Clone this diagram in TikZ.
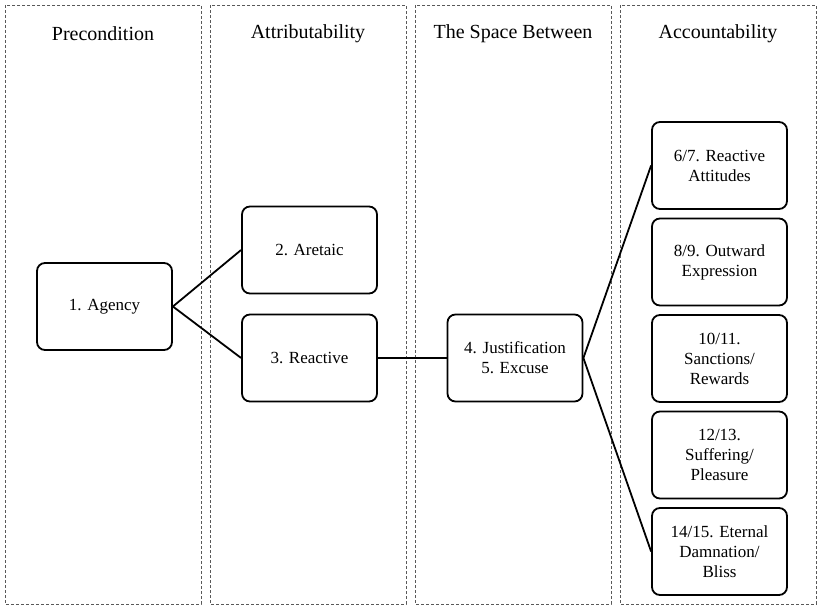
\documentclass[tikz,border=0pt]{standalone}
\usepackage{fontspec}
\setmainfont{Liberation Serif}

\begin{document}
\begin{tikzpicture}[x=1pt,y=-1pt,line width=1.8pt,
	stage/.style={draw,rounded corners=8pt,minimum width=135pt,minimum height=87pt,align=center,inner sep=2pt,font=\fontsize{17}{20}\selectfont},
	panel/.style={draw=black!65,line width=0.8pt,dash pattern=on 3pt off 2pt},
	heading/.style={font=\fontsize{20}{24}\selectfont}]

\useasboundingbox (0,0) rectangle (819,609);

%Draw the four dashed columns and the heading of each one
	\foreach \xl/\id/\title in {5/pre/Precondition,210/att/Attributability,415/spc/The Space Between,620/acc/Accountability}
		{
		\draw [panel] (\xl,5) rectangle ++(196,599);
		\node [heading] (\id) at (\xl+98,34) {\title};
	}

%The stages on the left
	\node [stage] (agency) at (104.5,306.5) {1. Agency};
	\node [stage] (aretaic) at (309.5,250) {2. Aretaic};
	\node [stage] (reactive) at (309.5,358) {3. Reactive};
	\node [stage] (excuse) at (515,358) {4. Justification\\5. Excuse};

%The five forms of accountability, stacked in the last column
	\foreach \i/\txt in {0/{6/7. Reactive\\Attitudes},1/{8/9. Outward\\Expression},2/{10/11.\\Sanctions/\\Rewards},3/{12/13.\\Suffering/\\Pleasure},4/{14/15. Eternal\\Damnation/\\Bliss}}
		{
		\node [stage] (acc\i) at (719.5,{165.5+96.5*\i}) {\txt};
	}

%Connect the stages
	\draw (agency.east) -- (aretaic.west);
	\draw (agency.east) -- (reactive.west);
	\draw (reactive) -- (excuse);
	\draw (excuse.east) -- (acc0.west);
	\draw (excuse.east) -- (acc4.west);

\end{tikzpicture}
\end{document}
